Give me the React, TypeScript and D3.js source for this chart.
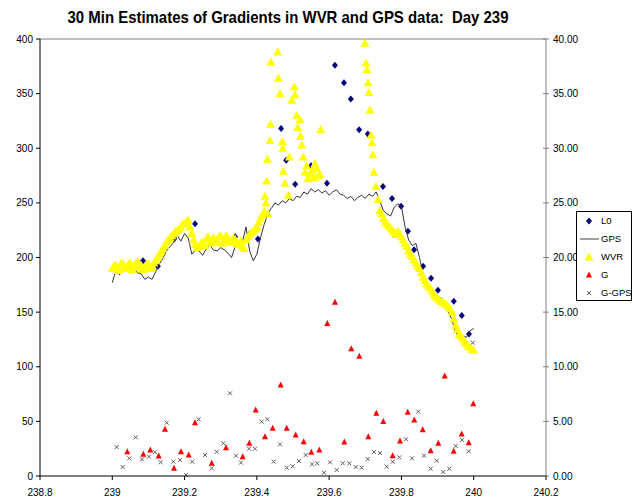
import React from "react";
import * as d3 from "d3";

// ---- data ----
const xTicks = [238.8, 239, 239.2, 239.4, 239.6, 239.8, 240, 240.2];
const yLeftTicks = [0, 50, 100, 150, 200, 250, 300, 350, 400];
const yRightTicks = [0, 5, 10, 15, 20, 25, 30, 35, 40];

const l0Days = [239.085, 239.126, 239.171, 239.229, 239.34, 239.381, 239.403, 239.467, 239.481, 239.506, 239.55, 239.594, 239.616, 239.641, 239.66, 239.683, 239.707, 239.749, 239.774, 239.799, 239.818, 239.835, 239.86, 239.882, 239.901, 239.945, 239.967, 239.987];
const l0Vals = [197, 192, 217, 231, 219, 222, 217, 318, 289, 267, 284, 268, 376, 360, 345, 317, 313, 265, 254, 247, 224, 207, 192, 181, 170, 160, 147, 130];

// GPS every 0.01 day from 239.00 to 240.00
const gpsStart = 239.0;
const gpsStep = 0.01;
const gpsVals = [
  177, 188, 184, 190, 188, 191, 189, 186, 185, 180,
  182, 180, 187, 194, 199, 206, 210, 214, 220, 215,
  222, 218, 203, 207, 206, 202, 208, 211, 207, 206,
  209, 207, 204, 200, 210, 215, 214, 228, 206, 197,
  203, 218, 230, 240, 245, 250, 248, 252, 250, 254,
  252, 256, 255, 260, 258, 263, 260, 262, 259, 261,
  257, 260, 262, 258, 257, 254, 256, 252, 255, 257,
  254, 258, 256, 260, 252, 243, 240, 238, 246, 249,
  247, 228, 216, 211, 213, 200, 185, 176, 170, 165,
  164, 163, 160, 150, 143, 131, 129, 128, 127, 133,
  135,
];

// WVR band every 0.01 day from 239.00 (null = no point)
const wvrStart = 239.0;
const wvrStep = 0.01;
const wvrBand: (number | null)[] = [
  190, 193, 189, 194, 191, 195, 192, 196, 193, 190,
  194, 191, 197, 203, 208, 214, 218, 222, 225, 228,
  231, 234, 222, 212, 210, 214, 217, 213, 218, 215,
  220, 216, 218, 214, 217, 212, 210, 216, 221, 224,
  228, 236, 242, null, null, null, null, null, null, null,
  null, null, null, null, null, null, null, null, null, null,
  null, null, null, null, null, null, null, null, null, null,
  null, null, null, null, 243, 236, 231, 227, 223, 224,
  219, 213, 206, 201, 195, 190, 182, 176, 172, 166,
  163, 160, 158, 155, 150, 138, 130, 126, 121, 118,
  115,
];
// WVR band, samples in between (239.005 + 0.01 i)
const wvrMidStart = 239.005;
const wvrBandMid: (number | null)[] = [
  192, 188, 195, 190, 194, 189, 195, 191, 189, 194,
  190, 195, 200, 206, 211, 216, 220, 224, 226, 231,
  233, 228, 216, 209, 213, 211, 219, 216, 214, 219,
  213, 220, 215, 218, 213, 215, 208, 219, 223, 226,
  232, 239, 250, null, null, null, null, null, null, null,
  null, null, null, null, null, null, null, null, null, null,
  null, null, null, null, null, null, null, null, null, null,
  null, null, null, null, 240, 233, 229, 225, 221, 222,
  216, 210, 203, 198, 192, 186, 179, 174, 169, 164,
  161, 159, 157, 153, 144, 134, 128, 123, 119, 116,
];
// WVR scattered points
const wvrExtraDays = [239.4225, 239.4272, 239.4294, 239.4308, 239.4364, 239.4378, 239.4391, 239.4577, 239.4593, 239.464, 239.4704, 239.4718, 239.4732, 239.4779, 239.487, 239.4898, 239.4964, 239.5036, 239.5055, 239.5102, 239.513, 239.5194, 239.5208, 239.5241, 239.5285, 239.5332, 239.5379, 239.5415, 239.547, 239.5526, 239.5581, 239.5609, 239.5656, 239.57, 239.5747, 239.5767,
  239.6992, 239.702, 239.7047, 239.7075, 239.7103, 239.713, 239.7158, 239.7186, 239.7213, 239.7241, 239.7296, 239.7352];
const wvrExtraVals = [256, 270, 290, 240, 307, 322, 379, 388, 364, 350, 306, 300, 279, 268, 257, 292, 344, 356, 349, 330, 319, 326, 311, 303, 292, 278, 284, 272, 277, 280, 273, 286, 282, 275, 276, 317,
  396, 378, 372, 360, 351, 335, 312, 305, 294, 278, 265, 253];

const gDays = [239.0415, 239.0858, 239.1052, 239.1284, 239.1459, 239.1708, 239.1901, 239.2114, 239.2289, 239.2751, 239.3146, 239.3608, 239.3791, 239.3968, 239.4225, 239.4438, 239.466, 239.4826, 239.5075, 239.5296, 239.5506, 239.5728, 239.5949, 239.6162, 239.6419, 239.6613, 239.6834, 239.7083, 239.7305, 239.7498, 239.7759, 239.796, 239.8174, 239.8356, 239.8589, 239.881, 239.902, 239.9197, 239.9446, 239.9668, 239.9861, 239.9989];
const gVals = [2.22, 2.0, 2.38, 1.83, 4.27, 0.7, 2.22, 1.92, 4.88, 1.16, 2.59, 1.77, 2.99, 6.04, 3.6, 4.36, 8.33, 4.36, 3.75, 3.14, 2.17, 2.38, 13.97, 15.9, 3.11, 11.65, 10.95, 3.6, 5.74, 5.0, 1.86, 3.2, 5.83, 5.13, 4.24, 2.32, 2.99, 9.15, 2.26, 3.84, 3.05, 6.62];

const ggDays = [239.0122, 239.0288, 239.0471, 239.0648, 239.0822, 239.1016, 239.1182, 239.134, 239.1506, 239.1688, 239.1874, 239.204, 239.2214, 239.2391, 239.2565, 239.2751, 239.2889, 239.3072, 239.3257, 239.3423, 239.3561, 239.3783, 239.3949, 239.4134, 239.4289, 239.4466, 239.464, 239.4826, 239.4992, 239.5166, 239.5351, 239.5526, 239.5672, 239.5858, 239.6024, 239.6209, 239.6375, 239.6558, 239.6735, 239.6901, 239.7067, 239.7241, 239.7407, 239.7593, 239.7759, 239.7941, 239.8127, 239.8292, 239.8467, 239.8625, 239.881, 239.8976, 239.9159, 239.9325, 239.9502, 239.9676, 239.9861, 239.9972];
const ggVals = [2.65, 0.82, 1.62, 3.54, 1.53, 1.77, 2.17, 1.25, 4.88, 1.31, 1.46, 0.09, 1.31, 5.19, 1.92, 0.7, 2.22, 2.99, 7.57, 1.86, 1.22, 2.5, 2.5, 4.97, 5.19, 1.31, 2.9, 0.76, 0.89, 1.37, 1.92, 1.07, 1.16, 0.3, 1.25, 0.55, 1.16, 1.16, 0.82, 0.76, 1.56, 2.2, 2.1, 0.85, 1.31, 1.71, 3.36, 1.62, 5.89, 1.86, 0.67, 1.4, 0.37, 0.67, 2.75, 3.3, 2.26, 12.2];

const legendItems = ["L0", "GPS", "WVR", "G", "G-GPS"];
const title = "30 Min Estimates of Gradients in WVR and GPS data:  Day 239";

// ---- layout ----
const W = 643, H = 504;
const X0 = 40, X1 = 546, Y0 = 39, Y1 = 476;
const FONT = "'Liberation Sans Narrow', 'Liberation Sans', Arial, sans-serif";
const FONT_R = "'Liberation Sans', Arial, sans-serif";

const diamond = "M0,-3.5L3,0L0,3.5L-3,0Z";
const bigTri = "M0,-4.5L4.5,3.5L-4.5,3.5Z";
const smallTri = "M0,-3.5L3,2.5L-3,2.5Z";
const cross = "M-2,-2L2,2M-2,2L2,-2";

export default function App() {
  const x = d3.scaleLinear().domain([238.8, 240.2]).range([X0, X1]);
  const yL = d3.scaleLinear().domain([0, 400]).range([Y1, Y0]);
  const yR = d3.scaleLinear().domain([0, 40]).range([Y1, Y0]);

  const gpsData = gpsVals.map((v, i) => [gpsStart + i * gpsStep, v] as [number, number]);
  const gpsPath = d3.line<[number, number]>().x((d) => x(d[0])).y((d) => yL(d[1]))(gpsData) || "";

  const wvrPts: [number, number][] = [];
  wvrBand.forEach((v, i) => { if (v != null) wvrPts.push([wvrStart + i * wvrStep, v]); });
  wvrBandMid.forEach((v, i) => { if (v != null) wvrPts.push([wvrMidStart + i * wvrStep, v]); });
  wvrExtraDays.forEach((d, i) => wvrPts.push([d, wvrExtraVals[i]]));
  wvrPts.sort((a, b) => a[0] - b[0]);

  const legY = (i: number) => 221 + i * 18;

  return (
    <svg width={W} height={H} style={{ position: "absolute", left: 0, top: 0, background: "#fff" }}>
      <rect x={0} y={0} width={W} height={H} fill="#fff" />
      <text x={288} y={23} textAnchor="middle" fontFamily={FONT} fontWeight="bold" fontSize={17} fill="#000"
        textLength={441} lengthAdjust="spacingAndGlyphs" style={{ whiteSpace: "pre" }}>{title}</text>

      {/* frame */}
      <line x1={X0} x2={X1} y1={Y0} y2={Y0} stroke="#808080" strokeWidth={1} />
      <line x1={X1} x2={X1} y1={Y0} y2={Y1} stroke="#808080" strokeWidth={1} />

      {/* L0 */}
      {l0Days.map((d, i) => (
        <path key={"l" + i} d={diamond} transform={`translate(${x(d)},${yL(l0Vals[i])})`} fill="#000080" />
      ))}
      {/* GPS */}
      <path d={gpsPath} fill="none" stroke="#333" strokeWidth={1} />
      {/* WVR */}
      {wvrPts.map((p, i) => (
        <path key={"w" + i} d={bigTri} transform={`translate(${x(p[0])},${yL(p[1])})`} fill="#ffff00" />
      ))}
      {/* G */}
      {gDays.map((d, i) => (
        <path key={"g" + i} d={smallTri} transform={`translate(${x(d)},${yR(gVals[i])})`} fill="#ff0000" />
      ))}
      {/* G-GPS */}
      {ggDays.map((d, i) => (
        <path key={"x" + i} d={cross} transform={`translate(${x(d)},${yR(ggVals[i])})`} stroke="#606060" strokeWidth={1} fill="none" />
      ))}

      {/* axes */}
      <line x1={X0} x2={X0} y1={Y0} y2={Y1} stroke="#000" strokeWidth={1} />
      <line x1={X0} x2={X1} y1={Y1} y2={Y1} stroke="#000" strokeWidth={1} />
      {yLeftTicks.map((t) => (
        <g key={"yl" + t}>
          <line x1={X0 - 4} x2={X0} y1={yL(t)} y2={yL(t)} stroke="#000" />
          <text x={X0 - 7} y={yL(t)} dy="0.35em" textAnchor="end" fontFamily={FONT} fontSize={10} fill="#000">{t}</text>
        </g>
      ))}
      {yRightTicks.map((t) => (
        <g key={"yr" + t}>
          <line x1={X1 - 3} x2={X1 + 3} y1={yR(t)} y2={yR(t)} stroke="#808080" />
          <text x={X1 + 7} y={yR(t)} dy="0.35em" textAnchor="start" fontFamily={FONT} fontSize={10} fill="#000">{t.toFixed(2)}</text>
        </g>
      ))}
      {xTicks.map((t) => (
        <g key={"xt" + t}>
          <line x1={x(t)} x2={x(t)} y1={Y1} y2={Y1 + 4} stroke="#000" />
          <text x={x(t)} y={496} textAnchor="middle" fontFamily={FONT} fontSize={10} fill="#000">{String(t)}</text>
        </g>
      ))}

      {/* legend */}
      <rect x={576.5} y={211.5} width={55} height={89} fill="#fff" stroke="#000" strokeWidth={1} />
      {legendItems.map((name, i) => {
        const cy = legY(i);
        let mark = null;
        if (i === 0) mark = <path d={diamond} transform={`translate(589,${cy})`} fill="#000080" />;
        if (i === 1) mark = <line x1={580} x2={599} y1={cy} y2={cy} stroke="#808080" strokeWidth={1.5} />;
        if (i === 2) mark = <path d={bigTri} transform={`translate(589,${cy})`} fill="#ffff00" />;
        if (i === 3) mark = <path d={smallTri} transform={`translate(589,${cy})`} fill="#ff0000" />;
        if (i === 4) mark = <path d={cross} transform={`translate(589,${cy})`} stroke="#606060" fill="none" />;
        return (
          <g key={name}>
            {mark}
            <text x={601} y={cy} dy="0.35em" fontFamily={FONT_R} fontSize={9.5} fill="#000">{name}</text>
          </g>
        );
      })}
    </svg>
  );
}
